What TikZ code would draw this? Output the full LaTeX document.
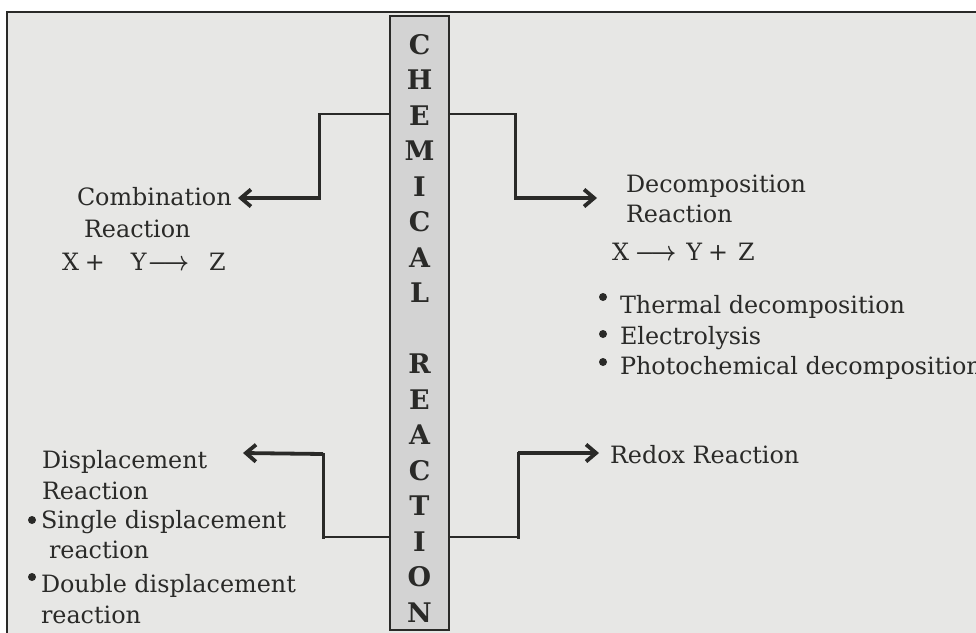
\documentclass[tikz,border=0pt]{standalone}
\usepackage{fontspec}
\setmainfont{DejaVu Serif}
\usetikzlibrary{arrows.meta}
\definecolor{bgc}{HTML}{E7E7E5}
\definecolor{boxc}{HTML}{D3D3D3}
\definecolor{ink}{HTML}{2A2A28}
\newlength\tmpw
\newcommand{\myarr}{{\boldmath\scalebox{0.9}[1.1]{$\longrightarrow$}}}
\begin{document}
\global\setbox0=\hbox{\fontsize{10pt}{12pt}\selectfont Thermal decomposition}%
\global\tmpw=\wd0
\pgfmathsetmacro\fszloc{2850/\tmpw}\xdef\fsz{\fszloc}%
\begin{tikzpicture}[x=1pt,y=-1pt,
  every node/.style={inner sep=0pt, outer sep=0pt, text=ink},
  lbl/.style={anchor=base west, font=\fontsize{\fsz pt}{31pt}\selectfont},
  thinln/.style={draw=ink, line width=2pt, line cap=rect},
  midln/.style={draw=ink, line width=3pt, line cap=rect},
  arrln/.style={draw=ink, line width=3.8pt, -{Straight Barb[length=10pt,width=17pt]}},
  bul/.style={fill=ink}]
\useasboundingbox (0,0) rectangle (976,632);
\clip (0,0) rectangle (976,632);
\fill[white] (0,0) rectangle (976,632);
\fill[bgc] (7,12) rectangle (1000,660);
\draw[ink, line width=2.4pt] (7,12) rectangle (1000,660);

% central box
\node[draw=ink, line width=2.2pt, fill=boxc, minimum width=59pt, minimum height=614pt] (cr) at (419.5,323) {};
\node[align=center, font=\bfseries\fontsize{27}{35.5}\selectfont] (crtext) at (419.5,328)
  {C\\H\\E\\M\\I\\C\\A\\L\\[35.5pt]R\\E\\A\\C\\T\\I\\O\\N};

% combination
\node[lbl] (comb) at (77,205) {Combination};
\node[lbl] (comb2) at (84,237) {Reaction};
\node[lbl] (comb3) at (62,270) {X\hspace{6pt}+\hspace{26pt}Y\hspace{1pt}\myarr\hspace{20pt}Z};
\coordinate (combtip) at (238,198);

% decomposition
\node[lbl] (dec) at (626,192) {Decomposition};
\node[lbl] (dec2) at (626,222) {Reaction};
\node[lbl] (dec3) at (612,260) {X\hspace{6pt}\myarr\hspace{10pt}Y\hspace{6pt}+\hspace{10pt}Z};
\coordinate (dectip) at (597,198);
\node[lbl] (th) at (620,313) {Thermal decomposition};
\node[lbl] (el) at (620,344) {Electrolysis};
\node[lbl] (ph) at (620,374) {Photochemical decomposition};
\fill[bul] (603,297) circle (4pt);
\fill[bul] (603,334) circle (4pt);
\fill[bul] (603,362) circle (4pt);

% redox
\node[lbl] (red) at (610,463) {Redox Reaction};
\coordinate (redtip) at (599,453);

% displacement
\node[lbl] (dis) at (42,468) {Displacement};
\node[lbl] (dis2) at (42,499) {Reaction};
\node[lbl] (sd) at (41,528) {Single displacement};
\node[lbl] (sd2) at (49,558) {reaction};
\node[lbl] (dd) at (41,592) {Double displacement};
\node[lbl] (dd2) at (41,623) {reaction};
\fill[bul] (32,520) circle (4pt);
\fill[bul] (32,577) circle (4pt);
\coordinate (distip) at (243,453);

% connectors
\coordinate (tl) at (319,114);
\coordinate (tlb) at (319,198);
\draw[thinln] ([yshift=-98pt]cr.north west) -- (tl);
\draw[midln] (tl) -- (tlb);
\draw[arrln] (tlb) -- (combtip);

\coordinate (tr) at (515,114);
\coordinate (trb) at (515,198);
\draw[thinln] ([yshift=-98pt]cr.north east) -- (tr);
\draw[midln] (tr) -- (trb);
\draw[arrln] (trb) -- (dectip);

\coordinate (bl) at (323,537);
\coordinate (blt) at (323,454);
\draw[thinln] ([yshift=-521pt]cr.north west) -- (bl);
\draw[midln] (bl) -- (blt);
\draw[arrln] (blt) -- (distip);

\coordinate (br) at (518,537);
\coordinate (brt) at (518,453);
\draw[thinln] ([yshift=-521pt]cr.north east) -- (br);
\draw[midln] (br) -- (brt);
\draw[arrln] (brt) -- (redtip);
\end{tikzpicture}
\end{document}
